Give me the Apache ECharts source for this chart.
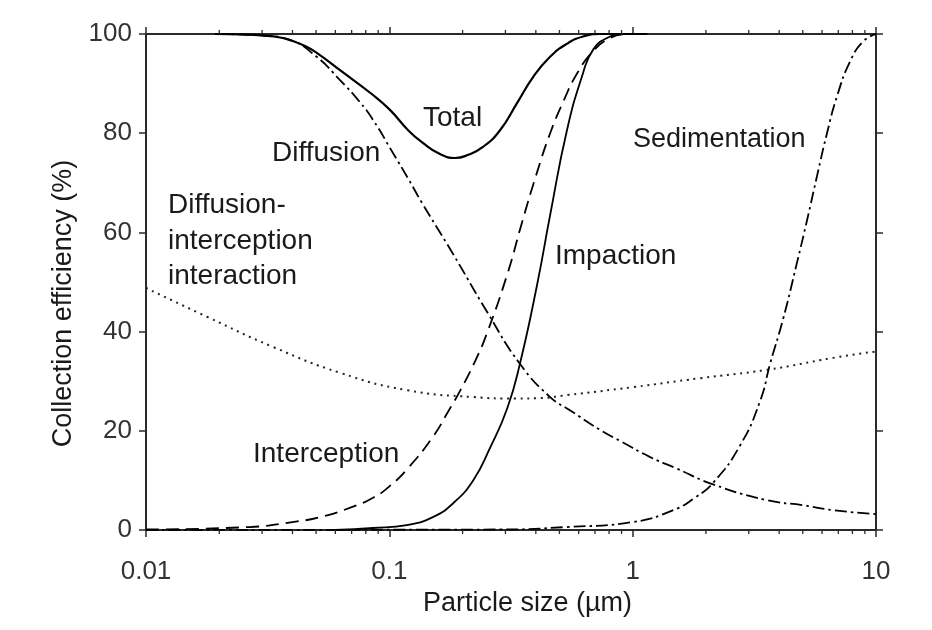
<!DOCTYPE html>
<html>
<head>
<meta charset="utf-8">
<script src="https://cdn.jsdelivr.net/npm/echarts@6/dist/echarts.min.js"></script>
<style>
  html, body { margin: 0; padding: 0; background: #fff; }
  #chart { width: 932px; height: 630px; }
</style>
</head>
<body>
<div id="chart"></div>
<script>
// ---- data (particle size in µm, collection efficiency in %) ----
const total = [[0.0192,100],[0.025,99.9],[0.03,99.7],[0.0356,99.3],[0.04,98.6],[0.045,97.6],[0.05,96.3],[0.0627,92.7],[0.0857,87.7],[0.1006,84.7],[0.12,80.5],[0.1377,78],[0.16,75.9],[0.186,75],[0.21,75.6],[0.2434,77.3],[0.2851,80.6],[0.3343,86],[0.3909,91.4],[0.4577,95.4],[0.5359,98],[0.6254,99.5],[0.7319,100],[1.15,100]];
const diffusion = [[0.0192,100],[0.03,99.7],[0.039,98.8],[0.05,95.5],[0.0627,90.7],[0.075,86.5],[0.0857,82.7],[0.1035,76],[0.12,70.7],[0.136,66],[0.181,56],[0.252,44],[0.344,33.5],[0.458,26.8],[0.55,24.2],[0.734,20.2],[0.9,17.8],[1.18,14.7],[1.5,12.5],[2.14,9.2],[3.57,6.0],[5,5.0],[6.66,4.0],[10,3.2]];
const interception = [[0.01,0.1],[0.0267,0.6],[0.04,1.6],[0.0519,2.6],[0.07,4.6],[0.0857,6.5],[0.1,8.8],[0.118,12.2],[0.151,18.8],[0.175,24],[0.195,28],[0.225,34],[0.252,39.7],[0.305,51.5],[0.351,62],[0.401,71.5],[0.458,80],[0.52,86.5],[0.59,92],[0.687,96.5],[0.807,99.2],[0.931,100]];
const impaction = [[0.06,0],[0.0857,0.4],[0.118,1],[0.151,2.6],[0.183,5.4],[0.221,10],[0.259,16.5],[0.305,24.5],[0.344,33.5],[0.405,49.5],[0.458,63.5],[0.537,80.6],[0.625,92.1],[0.687,96.8],[0.785,99.2],[0.914,100],[1.12,100]];
const sedimentation = [[0.01,0],[0.285,0.1],[0.537,0.6],[1.0,1.6],[1.47,4],[1.8,6.5],[2.14,9.5],[2.76,17],[3.34,26],[3.67,33.5],[4.15,42.5],[4.74,54],[5.21,62.5],[5.73,71.5],[6.29,80],[6.92,87.5],[7.83,94.5],[8.85,98.5],[10,100]];
const interaction = [[0.01,48.8],[0.0178,43],[0.0333,36.9],[0.0627,31.7],[0.118,28.2],[0.221,26.8],[0.33,26.5],[0.416,26.6],[0.537,27.2],[1.0,28.8],[1.89,30.6],[3.57,32.3],[6.66,34.7],[10,36]];

// tick values
const yTicks = [0, 20, 40, 60, 80, 100];
const xMinorTicks = [0.02,0.03,0.04,0.05,0.06,0.07,0.08,0.09,0.2,0.3,0.4,0.5,0.6,0.7,0.8,0.9,2,3,4,5,6,7,8,9];

// annotation texts
const labels = {
  total: 'Total',
  diffusion: 'Diffusion',
  sedimentation: 'Sedimentation',
  impaction: 'Impaction',
  interception: 'Interception',
  interaction: 'Diffusion-\ninterception\ninteraction'
};

const FONT = '"Liberation Sans", Arial, Helvetica, sans-serif';
const INK = '#1a1a1a';
const AXIS = '#2a2a2a';

const chart = echarts.init(document.getElementById('chart'), null, { renderer: 'canvas' });

function lineSeries(name, data, type, width, color) {
  return {
    name: name, type: 'line', data: data, showSymbol: false, symbol: 'none',
    smooth: 0.5, clip: true, z: 3,
    lineStyle: { color: color || '#000', width: width, type: type, cap: 'butt', join: 'round' }
  };
}

const baseX = {
  type: 'log', logBase: 10, min: 0.01, max: 10,
  axisLine: { show: true, onZero: false, lineStyle: { color: AXIS, width: 2 } },
  axisTick: { show: true, inside: false, length: 7, lineStyle: { color: AXIS, width: 1.5 } },
  splitLine: { show: false },
  minorTick: { show: false }
};
const baseY = {
  type: 'value', min: 0, max: 100, interval: 20,
  axisLine: { show: true, onZero: false, lineStyle: { color: AXIS, width: 2 } },
  axisTick: { show: true, inside: false, length: 7, lineStyle: { color: AXIS, width: 1.5 } },
  splitLine: { show: false }
};

const option = {
  backgroundColor: '#fff',
  animation: false,
  grid: { left: 146, right: 56, top: 34, bottom: 100, containLabel: false },
  xAxis: [
    Object.assign({}, baseX, {
      position: 'bottom',
      name: 'Particle size (µm)', nameLocation: 'middle', nameGap: 60,
      nameTextStyle: { fontFamily: FONT, fontSize: 27, color: INK, padding: [0, 0, 0, 33] },
      axisLabel: {
        fontFamily: FONT, fontSize: 26, color: '#333', margin: 29,
        formatter: function (v) { return String(v); }
      }
    }),
    Object.assign({}, baseX, { position: 'top', axisLabel: { show: false } })
  ],
  yAxis: [
    Object.assign({}, baseY, {
      position: 'left',
      name: 'Collection efficiency (%)', nameLocation: 'middle', nameGap: 69, nameRotate: 90,
      nameTextStyle: { fontFamily: FONT, fontSize: 27, color: INK, padding: [0, 43, 0, 0] },
      axisLabel: {
        fontFamily: FONT, fontSize: 26, color: '#333', margin: 14,
        verticalAlign: 'middle', padding: [14, 0, 0, 0],
        customValues: yTicks
      }
    }),
    Object.assign({}, baseY, { position: 'right', axisLabel: { show: false } })
  ],
  series: [
    lineSeries('Diffusion-interception interaction', interaction, [2, 4.7], 2, '#222'),
    lineSeries('Sedimentation', sedimentation, [12, 4, 2.5, 4], 1.8),
    lineSeries('Diffusion', diffusion, [12, 4, 2.5, 4], 1.8),
    lineSeries('Interception', interception, [13, 7], 1.8),
    lineSeries('Impaction', impaction, 'solid', 1.8),
    lineSeries('Total', total, 'solid', 2.2),
    {
      type: 'custom', name: 'minor ticks', data: xMinorTicks.map(function (v) { return [v]; }),
      clip: false, silent: true, z: 5,
      encode: { x: 0 },
      renderItem: function (params, api) {
        const x = api.value(0);
        const b = api.coord([x, 0]);
        const t = api.coord([x, 100]);
        const st = { stroke: AXIS, lineWidth: 1.3 };
        return {
          type: 'group',
          children: [
            { type: 'line', shape: { x1: b[0], y1: b[1], x2: b[0], y2: b[1] + 4 }, style: st },
            { type: 'line', shape: { x1: t[0], y1: t[1], x2: t[0], y2: t[1] - 4 }, style: st }
          ]
        };
      }
    }
  ],
  graphic: [
    { type: 'text', x: 423, y: 118, style: { text: labels.total, font: '28px ' + FONT, fill: INK, verticalAlign: 'middle' } },
    { type: 'text', x: 272, y: 153, style: { text: labels.diffusion, font: '28px ' + FONT, fill: INK, verticalAlign: 'middle' } },
    { type: 'text', x: 633, y: 140, style: { text: labels.sedimentation, font: '27px ' + FONT, fill: INK, verticalAlign: 'middle' } },
    { type: 'text', x: 555, y: 256, style: { text: labels.impaction, font: '28px ' + FONT, fill: INK, verticalAlign: 'middle' } },
    { type: 'text', x: 253, y: 454, style: { text: labels.interception, font: '28px ' + FONT, fill: INK, verticalAlign: 'middle' } },
    { type: 'text', x: 168, y: 188, style: { text: labels.interaction, font: '28px ' + FONT, fill: INK, verticalAlign: 'top', lineHeight: 35.5 } }
  ]
};

chart.setOption(option);
</script>
</body>
</html>
